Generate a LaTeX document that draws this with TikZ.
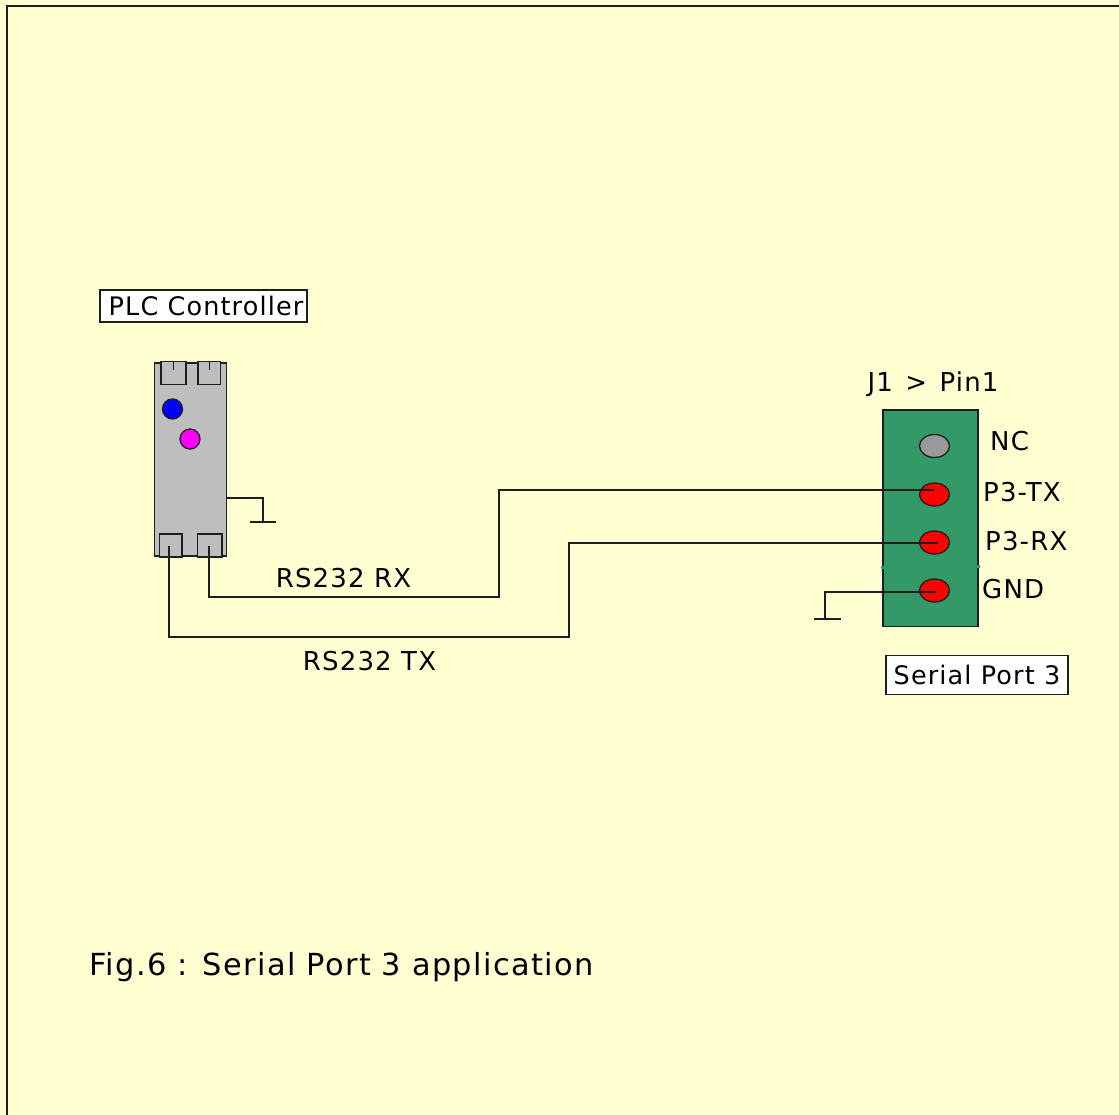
\documentclass[tikz,border=0pt]{standalone}
\usepackage{fontspec}
\setmainfont[LetterSpace=4.5]{DejaVu Sans}
\usetikzlibrary{positioning,shapes.geometric}
\definecolor{bgyellow}{HTML}{FFFFD2}
\definecolor{plcgray}{HTML}{BEBEBE}
\definecolor{portgreen}{HTML}{339966}
\definecolor{linecol}{HTML}{1E1E1E}
\definecolor{pingray}{HTML}{999999}
\definecolor{lampmag}{HTML}{FF00FF}
\definecolor{lampblue}{HTML}{0000FF}
\tikzset{
  x=1pt,y=-1pt,
  wire/.style={draw=linecol,line width=1.5pt,line join=miter},
  boxline/.style={draw=linecol,line width=1.7pt},
  unit/.style={boxline,fill=plcgray,minimum width=0pt,inner sep=0pt},
  lamp/.style={circle,draw=linecol,line width=1.3pt,inner sep=0pt,minimum size=20pt},
  pinhole/.style={ellipse,draw=linecol,line width=1.3pt,inner sep=0pt,minimum width=30pt,minimum height=23pt,fill=red},
  lab/.style={inner sep=0pt,text=black,font=\fontsize{26}{30}\selectfont},
  caption/.style={boxline,fill=white,inner sep=0pt,text=black,font=\fontsize{25.5}{30}\selectfont},
}
\begin{document}
\begin{tikzpicture}
\useasboundingbox (0,0) rectangle (1119,1115);
\fill[bgyellow] (0,0) rectangle (1119,1115);
\draw[draw=linecol,line width=2pt] (7,1116) -- (7,6) -- (1120,6);
% PLC
\node[unit,minimum width=72pt,minimum height=193pt] (plc) at (190.5,459.5) {};
\node[unit,minimum width=25pt,minimum height=23pt] (tl) at (173.5,373) {};
\node[unit,minimum width=22.5pt,minimum height=23pt] (tr) at (209.3,373) {};
\node[unit,minimum width=22.5pt,minimum height=23pt] (bl) at (170.8,545.7) {};
\node[unit,minimum width=24.5pt,minimum height=23pt] (br) at (209.7,545.7) {};
\draw[wire] (tl.north) -- ++(0,9.5);
\draw[wire] (tr.north) -- ++(0,9.5);
\node[lamp,fill=lampblue] (blue) at (172.5,409) {};
\node[lamp,fill=lampmag] (mag) at (190,439) {};
% PLC ground
\coordinate (plcout) at (plc.east |- 0,498);
\coordinate (gnda) at (263,522);
\coordinate (gndal) at (250,522);
\coordinate (gndar) at (275.5,522);
\draw[wire] (plcout) -| (gnda);
\draw[wire] (gndal) -- (gndar);
% Port
\node[draw=linecol,line width=1.3pt,fill=portgreen,minimum width=95pt,minimum height=216.5pt,inner sep=0pt] (port) at (930.5,518.3) {};
\fill[portgreen] (881,566) rectangle (884,568.5);
\fill[portgreen] (977,565) rectangle (980,567.5);
\node[pinhole,fill=pingray] (nc) at (934.5,446) {};
\node[pinhole] (ptx) at (934.5,494.5) {};
\node[pinhole] (prx) at (934.5,542.5) {};
\node[pinhole] (pgnd) at (934.5,590.5) {};
% wires
\coordinate (txend) at (934,490);
\coordinate (rxend) at (938,543);
\coordinate (gndend) at (936,592);
\coordinate (rx1) at (209,597);
\coordinate (rx2) at (499,597);
\coordinate (tx0) at (169,545.7);
\coordinate (tx1) at (169,637);
\coordinate (tx2) at (569,637);
\coordinate (rx0) at (209,545.7);
\draw[wire] (rx0) -- (rx1) -- (rx2) -- (rx2 |- txend) -- (txend);
\draw[wire] (tx0) -- (tx1) -- (tx2) -- (tx2 |- rxend) -- (rxend);
\coordinate (gndb) at (825,619);
\draw[wire] (gndend) -| (gndb);
\coordinate (gndbl) at (814,619);
\coordinate (gndbr) at (841,619);
\draw[wire] (gndbl) -- (gndbr);
% labels
\node[caption,minimum width=207pt,minimum height=32pt] (plclab) at (203.5,306) {\hspace{5pt}PLC Controller};
\node[caption,minimum width=182pt,minimum height=39pt] (serlab) at (977,675) {Serial Port 3};
\node[lab] (j1) at (933,384.5) {J1\hspace{3pt} >\hspace{3pt} Pin1};
\node[lab,anchor=west] (nclab) at (990,441.5) {NC};
\node[lab,anchor=west] (txlab) at (983,492.5) {P3-TX};
\node[lab,anchor=west] (rxlab) at (985,541.5) {P3-RX};
\node[lab,anchor=west] (gndlab) at (982,589.5) {GND};
\node[lab] (rs1) at (343.5,578.5) {RS232 RX};
\node[lab] (rs2) at (369.5,661.5) {RS232 TX};
\node[lab,anchor=west,font=\fontsize{30.4}{34}\selectfont] (fig) at (89,967) {Fig.6 : Serial Port 3 application};
\end{tikzpicture}
\end{document}
